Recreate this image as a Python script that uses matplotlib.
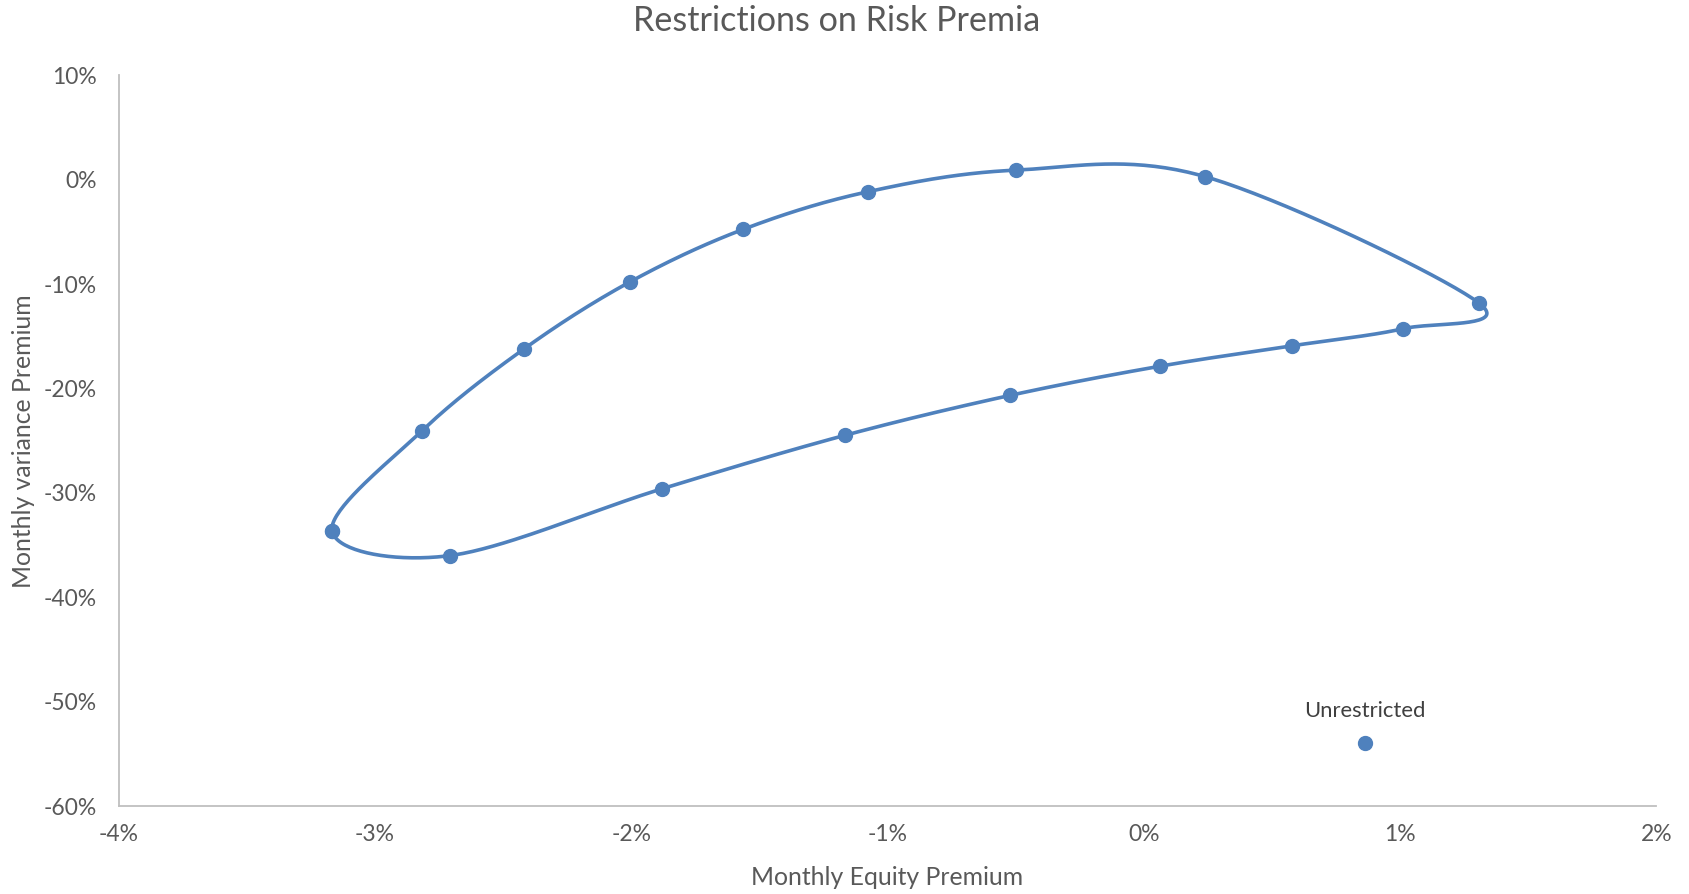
import numpy as np
import matplotlib
matplotlib.use("Agg")
import matplotlib.pyplot as plt
from matplotlib.ticker import FuncFormatter

# Data (percent)
equity_premium = [-3.167, -2.817, -2.418, -2.006, -1.564, -1.077, -0.500, 0.240,
                  1.308, 1.013, 0.580, 0.063, -0.521, -1.165, -1.880, -2.708, -3.167]
variance_premium = [-33.67, -24.06, -16.2, -9.8, -4.76, -1.15, 0.92, 0.30,
                    -11.8, -14.26, -15.9, -17.86, -20.65, -24.47, -29.6, -36.0, -33.67]
unrestricted_x = [0.862]
unrestricted_y = [-53.9]
unrestricted_label = "Unrestricted"

x_ticks = [-4, -3, -2, -1, 0, 1, 2]
y_ticks = [10, 0, -10, -20, -30, -40, -50, -60]

COLOR = "#4F81BD"
TEXT = "#595959"
FONT = ["Lato", "DejaVu Sans"]
plt.rcParams['font.family'] = FONT


def smooth(xs, ys, n=40):
    P = np.column_stack([xs, ys]).astype(float)
    m = len(P)
    closed = np.allclose(P[0], P[-1])
    out = []
    for i in range(m - 1):
        if i > 0:
            p0 = P[i - 1]
        else:
            p0 = P[m - 2] if closed else P[i]
        p1 = P[i]
        p2 = P[i + 1]
        if i + 2 < m:
            p3 = P[i + 2]
        else:
            p3 = P[1] if closed else P[i + 1]
        c1 = p1 + (p2 - p0) / 6.0
        c2 = p2 - (p3 - p1) / 6.0
        t = np.linspace(0, 1, n)[:, None]
        seg = ((1 - t) ** 3) * p1 + 3 * ((1 - t) ** 2) * t * c1 + 3 * (1 - t) * t ** 2 * c2 + t ** 3 * p2
        out.append(seg if i == 0 else seg[1:])
    arr = np.vstack(out)
    return arr[:, 0], arr[:, 1]


fig = plt.figure(figsize=(16.9, 8.94), dpi=100)
ax = fig.add_axes([0.0702, 0.0982, 0.9098, 0.8175])

sx, sy = smooth(equity_premium, variance_premium)
ax.plot(sx, sy, color=COLOR, lw=2.6, solid_capstyle='round', zorder=2)
ax.plot(equity_premium, variance_premium, 'o', color=COLOR, ms=10, mec=COLOR, zorder=3)
ax.plot(unrestricted_x, unrestricted_y, 'o', color=COLOR, ms=10, mec=COLOR, zorder=3)
ax.annotate(unrestricted_label, (unrestricted_x[0], unrestricted_y[0]), xytext=(0, 23),
            textcoords='offset points', ha='center', va='center', fontsize=15.8, color='#404040')

ax.set_xlim(-4, 2)
ax.set_ylim(-60, 10)
ax.set_xticks(x_ticks)
ax.set_yticks(y_ticks)
ax.xaxis.set_major_formatter(FuncFormatter(lambda v, p: f"{v:.0f}%"))
ax.yaxis.set_major_formatter(FuncFormatter(lambda v, p: f"{v:.0f}%"))
ax.tick_params(length=0, labelsize=16.5, colors=TEXT)
ax.tick_params(axis='x', pad=13)
ax.tick_params(axis='y', pad=15.5)

for s in ['top', 'right']:
    ax.spines[s].set_visible(False)
for s in ['left', 'bottom']:
    ax.spines[s].set_color('#BFBFBF')
    ax.spines[s].set_linewidth(1.3)

ax.set_xlabel("Monthly Equity Premium", fontsize=17.8, color=TEXT, va='center')
ax.set_ylabel("Monthly variance Premium", fontsize=17.8, color=TEXT, va='center')
ax.xaxis.set_label_coords(0.5, -0.0974)
ax.yaxis.set_label_coords(-0.0617, 0.5)
fig.text(0.495, 0.976, "Restrictions on Risk Premia", ha='center', va='center',
         fontsize=24.6, color=TEXT)

fig.savefig("out.png", dpi=100, facecolor='white')
